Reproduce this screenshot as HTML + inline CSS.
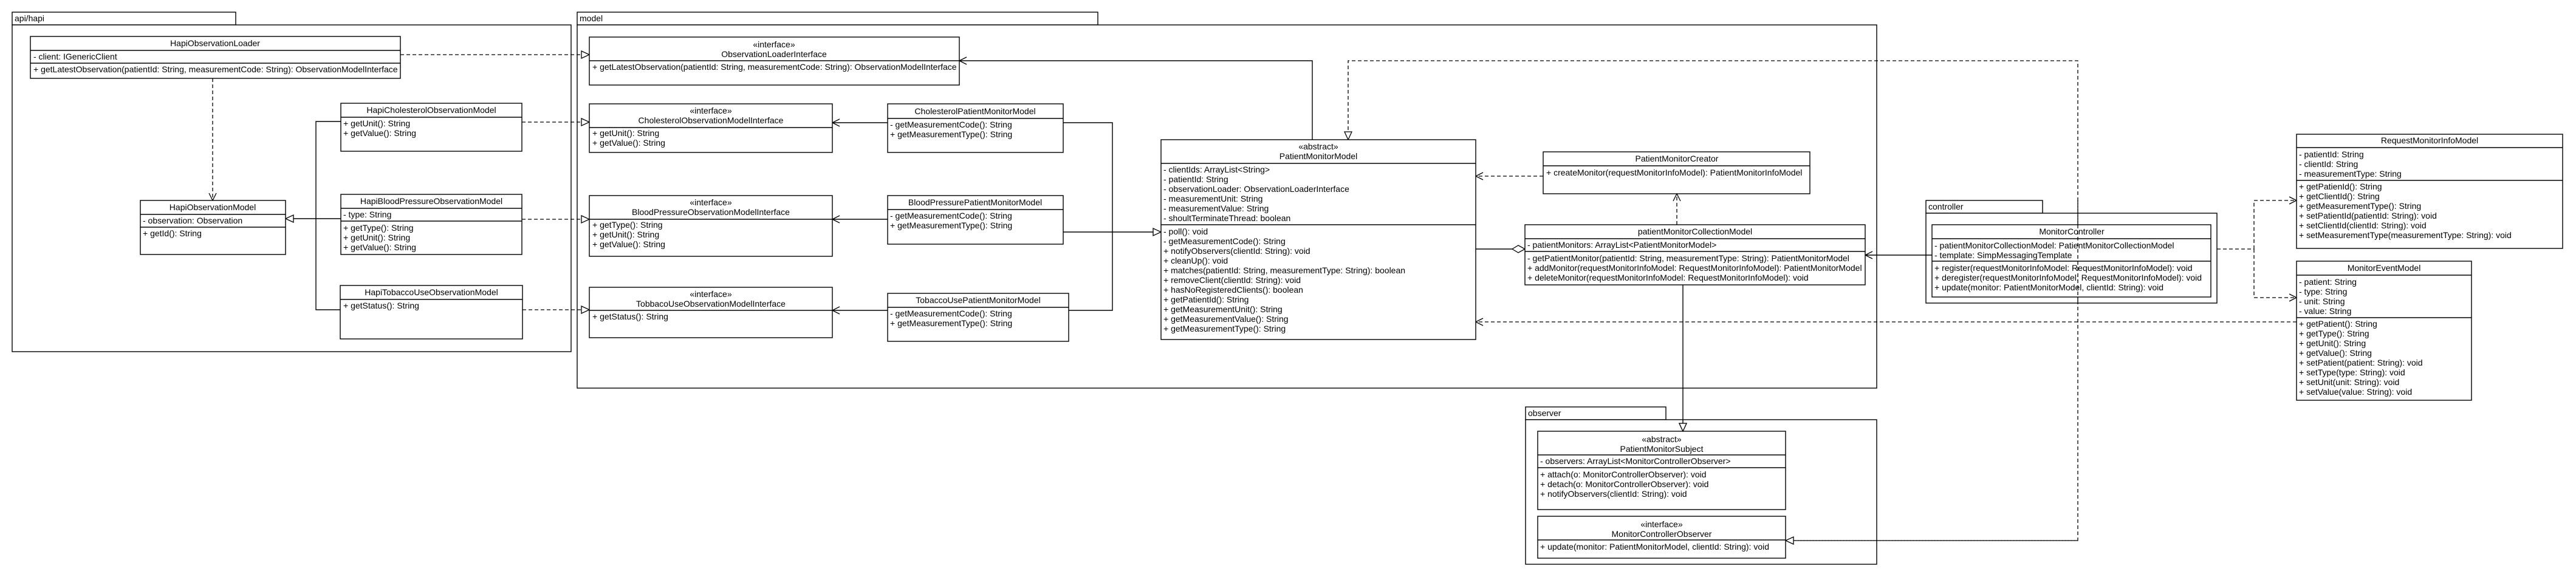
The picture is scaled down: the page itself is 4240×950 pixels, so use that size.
<!DOCTYPE html>
<html><head><meta charset="utf-8"><style>
html,body{margin:0;padding:0;background:#fff}
svg{display:block}
text{font-family:"Liberation Sans",Arial,sans-serif;font-size:14px;fill:#000}
.b{fill:#fff;stroke:#000;stroke-width:1.4}
.l{stroke:#000;stroke-width:1.4;fill:none}
.d{stroke:#000;stroke-width:1.3;fill:none;stroke-dasharray:6,4}
.c{text-anchor:middle}
</style></head><body>
<svg width="4240" height="950" viewBox="0 0 4240 950" xmlns="http://www.w3.org/2000/svg">
<defs>
<marker id="open" markerUnits="userSpaceOnUse" markerWidth="16" markerHeight="16" refX="13" refY="7" orient="auto"><path d="M1,1 L13,7 L1,13" fill="none" stroke="#000" stroke-width="1.3"/></marker>
<marker id="tri" markerUnits="userSpaceOnUse" markerWidth="16" markerHeight="16" refX="14" refY="7" orient="auto"><path d="M1,1 L14,7 L1,13 Z" fill="#fff" stroke="#000" stroke-width="1.3"/></marker>
<marker id="dia" markerUnits="userSpaceOnUse" markerWidth="24" markerHeight="16" refX="22" refY="8" orient="auto"><path d="M1,8 L11,2 L22,8 L11,14 Z" fill="#fff" stroke="#000" stroke-width="1.3"/></marker>
</defs>

<!-- packages -->
<rect class="b" x="20" y="20" width="368" height="21"/><text x="24" y="35">api/hapi</text>
<rect class="b" x="20" y="41" width="920" height="538"/>
<rect class="b" x="950" y="20" width="857" height="21"/><text x="954" y="35">model</text>
<rect class="b" x="950" y="41" width="2139" height="598"/>
<rect class="b" x="3170" y="330" width="192" height="21"/><text x="3174" y="345">controller</text>
<rect class="b" x="3170" y="351" width="479" height="148"/>
<rect class="b" x="2511" y="670" width="231" height="21"/><text x="2515" y="685">observer</text>
<rect class="b" x="2511" y="691" width="578" height="238"/>

<!-- connectors -->
<path class="d" d="M350,129 L350,330" marker-end="url(#open)"/>
<path class="l" d="M561,200 L520,200 L520,510 L560,510"/>
<path class="l" d="M561,360 L470,360" marker-end="url(#tri)"/>
<path class="d" d="M659,90 L970,90" marker-end="url(#tri)"/>
<path class="d" d="M859,201 L970,201" marker-end="url(#tri)"/>
<path class="d" d="M859,361 L970,361" marker-end="url(#tri)"/>
<path class="d" d="M860,510 L970,510" marker-end="url(#tri)"/>
<path class="l" d="M1461,202 L1370,202" marker-end="url(#open)"/>
<path class="l" d="M1461,361 L1370,361" marker-end="url(#open)"/>
<path class="l" d="M1461,511 L1370,511" marker-end="url(#open)"/>
<path class="l" d="M1750,202 L1831,202 L1831,511 L1759,511"/>
<path class="l" d="M1750,382 L1911,382" marker-end="url(#tri)"/>
<path class="l" d="M2160,230 L2160,100 L1579,100" marker-end="url(#open)"/>
<path class="d" d="M2939,890 L3420,890 L3420,100 L2219,100 L2219,230" marker-end="url(#tri)"/>
<path class="d" d="M3420,890 L2939,890" marker-end="url(#tri)"/>
<path class="d" d="M2540,290 L2429,290" marker-end="url(#open)"/>
<path class="d" d="M2760,370 L2760,319" marker-end="url(#open)"/>
<path class="l" d="M2429,410 L2510,410" marker-end="url(#dia)"/>
<path class="l" d="M2770,469 L2770,710" marker-end="url(#tri)"/>
<path class="d" d="M3780,530 L2429,530" marker-end="url(#open)"/>
<path class="l" d="M3180,420 L3070,420" marker-end="url(#open)"/>
<path class="d" d="M3649,410 L3710,410"/>
<path class="d" d="M3710,410 L3710,330 L3780,330" marker-end="url(#open)"/>
<path class="d" d="M3710,410 L3710,490 L3780,490" marker-end="url(#open)"/>

<!-- classes -->
<rect class="b" x="50" y="60" width="609" height="69"/><line class="l" x1="50" y1="83" x2="659" y2="83"/><line class="l" x1="50" y1="104" x2="659" y2="104"/>
<text class="c" x="354" y="76">HapiObservationLoader</text>
<text x="55" y="98">- client: IGenericClient</text>
<text x="55" y="119">+ getLatestObservation(patientId: String, measurementCode: String): ObservationModelInterface</text>

<rect class="b" x="231" y="330" width="239" height="89"/><line class="l" x1="231" y1="353" x2="470" y2="353"/><line class="l" x1="231" y1="374" x2="470" y2="374"/>
<text class="c" x="350" y="346">HapiObservationModel</text>
<text x="235" y="368">- observation: Observation</text>
<text x="235" y="389">+ getId(): String</text>

<rect class="b" x="561" y="170" width="298" height="79"/><line class="l" x1="561" y1="193" x2="859" y2="193"/>
<text class="c" x="710" y="186">HapiCholesterolObservationModel</text>
<text x="565" y="208">+ getUnit(): String</text>
<text x="565" y="224">+ getValue(): String</text>

<rect class="b" x="561" y="320" width="298" height="99"/><line class="l" x1="561" y1="343" x2="859" y2="343"/><line class="l" x1="561" y1="364" x2="859" y2="364"/>
<text class="c" x="710" y="336">HapiBloodPressureObservationModel</text>
<text x="565" y="358">- type: String</text>
<text x="565" y="380">+ getType(): String</text>
<text x="565" y="396">+ getUnit(): String</text>
<text x="565" y="412">+ getValue(): String</text>

<rect class="b" x="560" y="470" width="300" height="88"/><line class="l" x1="560" y1="493" x2="860" y2="493"/>
<text class="c" x="710" y="486">HapiTobaccoUseObservationModel</text>
<text x="565" y="508">+ getStatus(): String</text>

<rect class="b" x="970" y="61" width="609" height="79"/><line class="l" x1="970" y1="100" x2="1579" y2="100"/>
<text class="c" x="1274" y="78">«interface»</text><text class="c" x="1274" y="94">ObservationLoaderInterface</text>
<text x="975" y="115">+ getLatestObservation(patientId: String, measurementCode: String): ObservationModelInterface</text>

<rect class="b" x="970" y="171" width="400" height="80"/><line class="l" x1="970" y1="210" x2="1370" y2="210"/>
<text class="c" x="1170" y="187">«interface»</text><text class="c" x="1170" y="203">CholesterolObservationModelInterface</text>
<text x="975" y="224">+ getUnit(): String</text><text x="975" y="240">+ getValue(): String</text>

<rect class="b" x="970" y="322" width="400" height="100"/><line class="l" x1="970" y1="361" x2="1370" y2="361"/>
<text class="c" x="1170" y="338">«interface»</text><text class="c" x="1170" y="354">BloodPressureObservationModelInterface</text>
<text x="975" y="375">+ getType(): String</text><text x="975" y="391">+ getUnit(): String</text><text x="975" y="407">+ getValue(): String</text>

<rect class="b" x="970" y="473" width="400" height="83"/><line class="l" x1="970" y1="511" x2="1370" y2="511"/>
<text class="c" x="1170" y="489">«interface»</text><text class="c" x="1170" y="505">TobbacoUseObservationModelInterface</text>
<text x="975" y="526">+ getStatus(): String</text>

<rect class="b" x="1461" y="171" width="289" height="80"/><line class="l" x1="1461" y1="195" x2="1750" y2="195"/>
<text class="c" x="1605" y="188">CholesterolPatientMonitorModel</text>
<text x="1465" y="210">- getMeasurementCode(): String</text><text x="1465" y="226">+ getMeasurementType(): String</text>

<rect class="b" x="1461" y="322" width="289" height="80"/><line class="l" x1="1461" y1="345" x2="1750" y2="345"/>
<text class="c" x="1605" y="338">BloodPressurePatientMonitorModel</text>
<text x="1465" y="360">- getMeasurementCode(): String</text><text x="1465" y="376">+ getMeasurementType(): String</text>

<rect class="b" x="1461" y="483" width="298" height="79"/><line class="l" x1="1461" y1="506" x2="1759" y2="506"/>
<text class="c" x="1610" y="499">TobaccoUsePatientMonitorModel</text>
<text x="1465" y="521">- getMeasurementCode(): String</text><text x="1465" y="537">+ getMeasurementType(): String</text>

<rect class="b" x="1911" y="230" width="518" height="329"/><line class="l" x1="1911" y1="269" x2="2429" y2="269"/><line class="l" x1="1911" y1="370" x2="2429" y2="370"/>
<text class="c" x="2170" y="246">«abstract»</text><text class="c" x="2170" y="262">PatientMonitorModel</text>
<text x="1915" y="284">- clientIds: ArrayList&lt;String&gt;</text>
<text x="1915" y="300">- patientId: String</text>
<text x="1915" y="316">- observationLoader: ObservationLoaderInterface</text>
<text x="1915" y="332">- measurementUnit: String</text>
<text x="1915" y="348">- measurementValue: String</text>
<text x="1915" y="364">- shoultTerminateThread: boolean</text>
<text x="1915" y="386">- poll(): void</text>
<text x="1915" y="402">- getMeasurementCode(): String</text>
<text x="1915" y="418">+ notifyObservers(clientId: String): void</text>
<text x="1915" y="434">+ cleanUp(): void</text>
<text x="1915" y="450">+ matches(patientId: String, measurementType: String): boolean</text>
<text x="1915" y="466">+ removeClient(clientId: String): void</text>
<text x="1915" y="482">+ hasNoRegisteredClients(): boolean</text>
<text x="1915" y="498">+ getPatientId(): String</text>
<text x="1915" y="514">+ getMeasurementUnit(): String</text>
<text x="1915" y="530">+ getMeasurementValue(): String</text>
<text x="1915" y="546">+ getMeasurementType(): String</text>

<rect class="b" x="2540" y="250" width="439" height="69"/><line class="l" x1="2540" y1="273" x2="2979" y2="273"/>
<text class="c" x="2760" y="266">PatientMonitorCreator</text>
<text x="2545" y="289">+ createMonitor(requestMonitorInfoModel): PatientMonitorInfoModel</text>

<rect class="b" x="2510" y="370" width="560" height="99"/><line class="l" x1="2510" y1="393" x2="3070" y2="393"/><line class="l" x1="2510" y1="414" x2="3070" y2="414"/>
<text class="c" x="2790" y="386">patientMonitorCollectionModel</text>
<text x="2514" y="408">- patientMonitors: ArrayList&lt;PatientMonitorModel&gt;</text>
<text x="2514" y="430">- getPatientMonitor(patientId: String, measurementType: String): PatientMonitorModel</text>
<text x="2514" y="446">+ addMonitor(requestMonitorInfoModel: RequestMonitorInfoModel): PatientMonitorModel</text>
<text x="2514" y="462">+ deleteMonitor(requestMonitorInfoModel: RequestMonitorInfoModel): void</text>

<rect class="b" x="3180" y="370" width="459" height="119"/><line class="l" x1="3180" y1="393" x2="3639" y2="393"/><line class="l" x1="3180" y1="430" x2="3639" y2="430"/>
<text class="c" x="3410" y="386">MonitorController</text>
<text x="3184" y="409">- patientMonitorCollectionModel: PatientMonitorCollectionModel</text>
<text x="3184" y="425">- template: SimpMessagingTemplate</text>
<text x="3184" y="446">+ register(requestMonitorInfoModel: RequestMonitorInfoModel): void</text>
<text x="3184" y="462">+ deregister(requestMonitorInfoModel: RequestMonitorInfoModel): void</text>
<text x="3184" y="478">+ update(monitor: PatientMonitorModel, clientId: String): void</text>
<line class="d" x1="3420" y1="330" x2="3420" y2="500"/>

<rect class="b" x="3780" y="221" width="438" height="188"/><line class="l" x1="3780" y1="243" x2="4218" y2="243"/><line class="l" x1="3780" y1="297" x2="4218" y2="297"/>
<text class="c" x="3999" y="236">RequestMonitorInfoModel</text>
<text x="3784" y="259">- patientId: String</text>
<text x="3784" y="275">- clientId: String</text>
<text x="3784" y="291">- measurementType: String</text>
<text x="3784" y="312">+ getPatienId(): String</text>
<text x="3784" y="328">+ getClientId(): String</text>
<text x="3784" y="344">+ getMeasurementType(): String</text>
<text x="3784" y="360">+ setPatientId(patientId: String): void</text>
<text x="3784" y="376">+ setClientId(clientId: String): void</text>
<text x="3784" y="392">+ setMeasurementType(measurementType: String): void</text>

<rect class="b" x="3780" y="430" width="288" height="229"/><line class="l" x1="3780" y1="453" x2="4068" y2="453"/><line class="l" x1="3780" y1="523" x2="4068" y2="523"/>
<text class="c" x="3924" y="446">MonitorEventModel</text>
<text x="3784" y="469">- patient: String</text>
<text x="3784" y="485">- type: String</text>
<text x="3784" y="501">- unit: String</text>
<text x="3784" y="517">- value: String</text>
<text x="3784" y="538">+ getPatient(): String</text>
<text x="3784" y="554">+ getType(): String</text>
<text x="3784" y="570">+ getUnit(): String</text>
<text x="3784" y="586">+ getValue(): String</text>
<text x="3784" y="602">+ setPatient(patient: String): void</text>
<text x="3784" y="618">+ setType(type: String): void</text>
<text x="3784" y="634">+ setUnit(unit: String): void</text>
<text x="3784" y="650">+ setValue(value: String): void</text>

<rect class="b" x="2531" y="710" width="408" height="129"/><line class="l" x1="2531" y1="749" x2="2939" y2="749"/><line class="l" x1="2531" y1="770" x2="2939" y2="770"/>
<text class="c" x="2735" y="728">«abstract»</text><text class="c" x="2735" y="744">PatientMonitorSubject</text>
<text x="2535" y="764">- observers: ArrayList&lt;MonitorControllerObserver&gt;</text>
<text x="2535" y="786">+ attach(o: MonitorControllerObserver): void</text>
<text x="2535" y="802">+ detach(o: MonitorControllerObserver): void</text>
<text x="2535" y="818">+ notifyObservers(clientId: String): void</text>
<path class="l" d="M2770,700 L2770,710" marker-end="url(#tri)"/>

<rect class="b" x="2531" y="850" width="408" height="69"/><line class="l" x1="2531" y1="889" x2="2939" y2="889"/>
<text class="c" x="2735" y="868">«interface»</text><text class="c" x="2735" y="884">MonitorControllerObserver</text>
<text x="2535" y="905">+ update(monitor: PatientMonitorModel, clientId: String): void</text>
</svg>
</body></html>
